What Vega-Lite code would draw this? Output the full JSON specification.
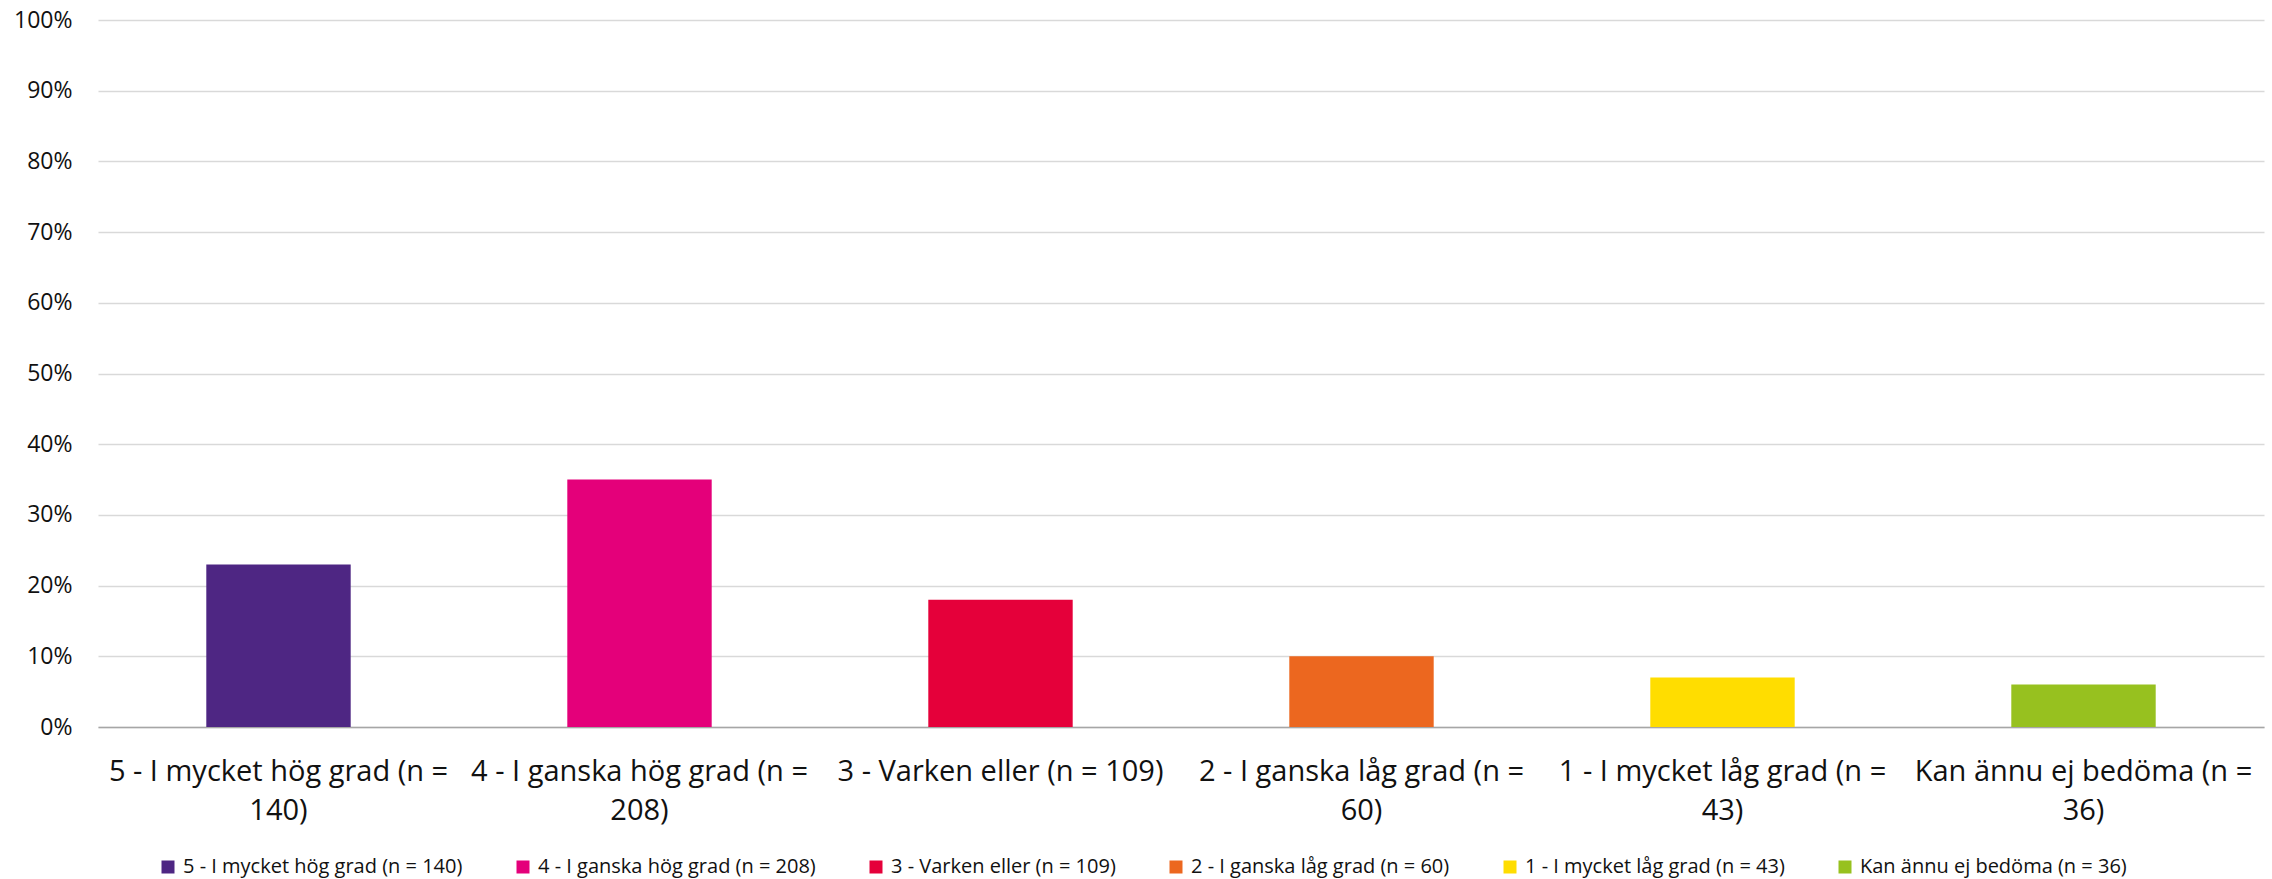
{
  "$schema": "https://vega.github.io/schema/vega-lite/v6.json",
  "width": 2166,
  "height": 707,
  "autosize": "none",
  "padding": {"left": 98, "top": 20, "right": 8, "bottom": 152},
  "background": "white",
  "config": {
    "view": {"stroke": null},
    "font": "Open Sans"
  },
  "data": {
    "values": [
      {"kategori": "5 - I mycket hög grad (n = 140)", "andel": 0.23},
      {"kategori": "4 - I ganska hög grad (n = 208)", "andel": 0.35},
      {"kategori": "3 - Varken eller (n = 109)", "andel": 0.18},
      {"kategori": "2 - I ganska låg grad (n = 60)", "andel": 0.10},
      {"kategori": "1 - I mycket låg grad (n = 43)", "andel": 0.07},
      {"kategori": "Kan ännu ej bedöma (n = 36)", "andel": 0.06}
    ]
  },
  "mark": {"type": "bar"},
  "encoding": {
    "x": {
      "field": "kategori",
      "type": "nominal",
      "sort": null,
      "scale": {"paddingInner": 0.6, "paddingOuter": 0.3},
      "axis": {
        "title": null,
        "labelAngle": 0,
        "labelFontSize": 29,
        "labelColor": "#111111",
        "labelLimit": 0,
        "labelPadding": 30,
        "labelLineHeight": 39,
        "labelBaseline": "top",
        "labelExpr": "indexof(datum.value, 'Varken') >= 0 ? datum.value : [slice(datum.value, 0, indexof(datum.value, '= ') + 1), slice(datum.value, indexof(datum.value, '= ') + 2)]",
        "ticks": false,
        "domainColor": "#a6a6a6",
        "domainWidth": 1.5
      }
    },
    "y": {
      "field": "andel",
      "type": "quantitative",
      "scale": {"domain": [0, 1]},
      "axis": {
        "title": null,
        "format": ".0%",
        "values": [0, 0.1, 0.2, 0.3, 0.4, 0.5, 0.6, 0.7, 0.8, 0.9, 1.0],
        "labelOverlap": false,
        "labelFontSize": 23,
        "labelColor": "#111111",
        "labelPadding": 26,
        "ticks": false,
        "domain": false,
        "gridColor": "#d9d9d9",
        "gridWidth": 1.3
      }
    },
    "color": {
      "field": "kategori",
      "type": "nominal",
      "sort": null,
      "scale": {
        "domain": [
          "5 - I mycket hög grad (n = 140)",
          "4 - I ganska hög grad (n = 208)",
          "3 - Varken eller (n = 109)",
          "2 - I ganska låg grad (n = 60)",
          "1 - I mycket låg grad (n = 43)",
          "Kan ännu ej bedöma (n = 36)"
        ],
        "range": ["#4E2683", "#E4007A", "#E5003A", "#EC671F", "#FFDD00", "#97C11F"]
      },
      "legend": {
        "title": null,
        "orient": "none",
        "legendX": 60,
        "legendY": 837,
        "padding": 0,
        "direction": "horizontal",
        "symbolType": "square",
        "symbolSize": 169,
        "symbolStrokeWidth": 0,
        "labelFontSize": 20,
        "labelColor": "#111111",
        "labelLimit": 0,
        "labelOffset": 5,
        "columnPadding": 50
      }
    }
  }
}
